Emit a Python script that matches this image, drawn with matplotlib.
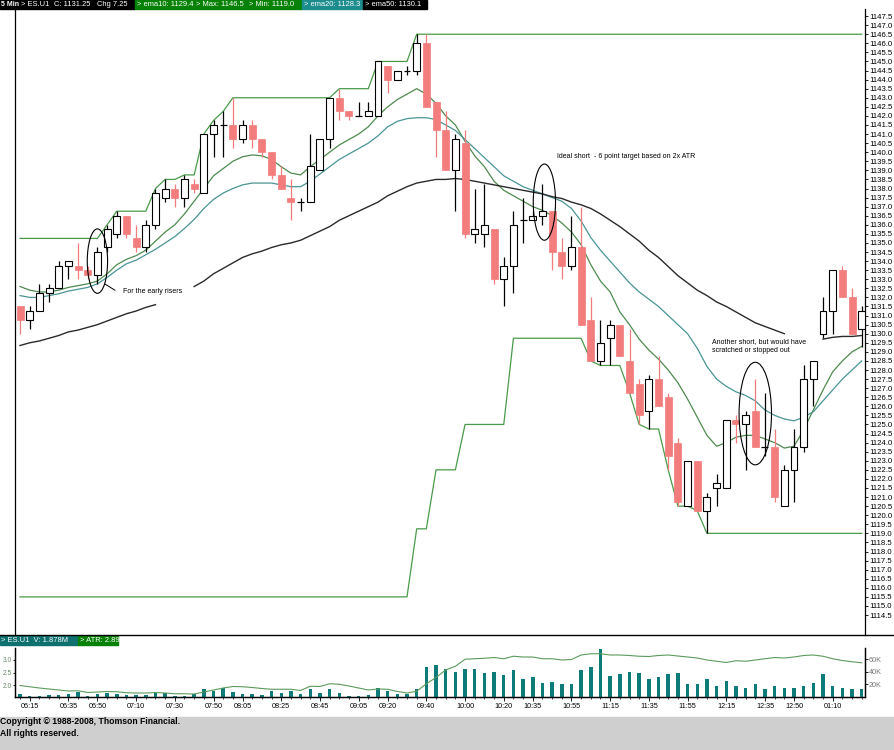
import numpy as np
import matplotlib
matplotlib.use('Agg')
import matplotlib.pyplot as plt
from matplotlib.patches import Ellipse, Rectangle
from matplotlib.lines import Line2D

plt.rcParams['font.family'] = ['Liberation Sans', 'DejaVu Sans']

# ---- data (5 min bars, first bar 06:10) ----
first_bar = '06:10'
opens = [1131.5, 1130.75, 1131.25, 1132.25, 1132.5, 1133.75, 1133.75, 1133.5, 1133.25, 1134.75,
         1135.5, 1136.5, 1135.25, 1134.75, 1136.0, 1137.5, 1138.0, 1137.5, 1138.25, 1137.75,
         1141.0, 1141.5, 1141.5, 1140.75, 1141.5, 1140.75, 1140.0, 1138.75, 1137.5, 1137.25,
         1137.25, 1139.0, 1140.75, 1143.0, 1142.25, 1142.0, 1142.0, 1142.0, 1144.75, 1144.0,
         1144.5, 1144.5, 1146.0, 1142.75, 1141.25, 1139.0, 1140.5, 1135.5, 1135.5, 1135.75,
         1133.0, 1133.75, 1136.25, 1136.25, 1136.5, 1136.75, 1134.5, 1133.75, 1134.75, 1130.75,
         1128.5, 1129.75, 1130.5, 1128.5, 1127.25, 1125.75, 1127.5, 1126.5, 1124.0, 1120.5,
         1123.0, 1120.25, 1121.5, 1121.5, 1125.25, 1125.0, 1125.75, 1123.75, 1123.75, 1120.5,
         1122.5, 1123.75, 1127.5, 1130.0, 1131.25, 1133.5, 1132.0, 1130.25]
highs = [1131.5, 1131.5, 1132.75, 1132.75, 1134.0, 1134.0, 1135.0, 1133.75, 1134.75, 1136.0,
         1136.75, 1136.5, 1136.0, 1136.25, 1138.0, 1138.5, 1138.25, 1138.75, 1138.5, 1141.0,
         1141.75, 1142.25, 1143.0, 1141.75, 1141.75, 1140.75, 1140.0, 1139.25, 1138.5, 1137.5,
         1141.0, 1140.75, 1143.0, 1143.5, 1142.25, 1142.75, 1142.75, 1145.0, 1144.75, 1144.5,
         1144.75, 1146.5, 1146.5, 1142.75, 1142.25, 1141.0, 1141.25, 1138.0, 1138.25, 1135.75,
         1134.25, 1136.75, 1137.5, 1136.75, 1138.25, 1136.75, 1135.25, 1136.5, 1137.0, 1132.0,
         1130.75, 1130.75, 1130.5, 1130.25, 1127.5, 1127.75, 1128.75, 1126.75, 1124.25, 1123.0,
         1123.0, 1121.25, 1122.25, 1125.25, 1125.5, 1125.75, 1127.5, 1126.75, 1124.75, 1122.75,
         1124.75, 1128.25, 1128.5, 1132.0, 1133.5, 1133.75, 1132.5, 1131.5]
lows = [1130.0, 1130.25, 1131.25, 1131.75, 1132.5, 1133.0, 1133.0, 1133.0, 1132.75, 1134.5,
        1135.25, 1135.25, 1134.5, 1134.5, 1135.75, 1137.25, 1137.0, 1137.0, 1137.75, 1137.75,
        1139.75, 1139.75, 1140.25, 1140.5, 1140.25, 1139.75, 1138.5, 1138.0, 1136.25, 1136.75,
        1137.25, 1139.0, 1140.25, 1141.75, 1141.75, 1142.0, 1142.0, 1142.0, 1143.25, 1144.0,
        1144.25, 1144.25, 1142.5, 1139.75, 1139.0, 1136.75, 1135.25, 1135.0, 1134.75, 1132.75,
        1131.5, 1132.25, 1135.0, 1136.25, 1136.0, 1133.5, 1133.0, 1133.5, 1130.5, 1128.5,
        1128.25, 1128.25, 1128.75, 1126.75, 1125.0, 1124.75, 1126.0, 1122.5, 1120.5, 1120.5,
        1120.25, 1119.0, 1120.5, 1121.5, 1124.0, 1122.5, 1123.75, 1123.25, 1120.75, 1120.5,
        1120.75, 1123.5, 1126.0, 1129.75, 1130.0, 1132.0, 1130.0, 1129.25]
closes = [1130.75, 1131.25, 1132.25, 1132.5, 1133.75, 1134.0, 1133.5, 1133.25, 1134.5, 1135.75,
          1136.5, 1135.5, 1134.75, 1136.0, 1137.75, 1138.0, 1137.5, 1138.5, 1138.0, 1141.0,
          1141.5, 1141.5, 1140.75, 1141.5, 1140.75, 1140.0, 1138.75, 1138.0, 1137.25, 1137.25,
          1139.25, 1140.75, 1143.0, 1142.25, 1142.0, 1142.0, 1142.25, 1145.0, 1144.0, 1144.5,
          1144.5, 1146.0, 1142.5, 1141.25, 1139.0, 1140.75, 1135.5, 1135.75, 1136.0, 1133.0,
          1133.75, 1136.0, 1136.25, 1136.5, 1136.75, 1134.5, 1133.75, 1134.75, 1130.5, 1128.5,
          1129.5, 1130.5, 1128.75, 1126.75, 1125.5, 1127.5, 1126.0, 1123.25, 1120.75, 1123.0,
          1120.25, 1121.0, 1121.75, 1125.25, 1125.0, 1125.5, 1123.75, 1123.75, 1121.0, 1122.5,
          1123.75, 1127.5, 1128.5, 1131.25, 1133.5, 1132.0, 1130.0, 1131.25]

ema10 = [1132.6, 1132.4, 1132.3, 1132.3, 1132.4, 1132.55, 1132.65, 1132.75, 1132.9, 1133.3,
         1133.8, 1134.1, 1134.3, 1134.6, 1135.1, 1135.6, 1136.0, 1136.6, 1137.3, 1138.0,
         1138.7, 1139.1, 1139.5, 1139.75, 1139.85, 1139.8, 1139.6, 1139.2, 1138.85, 1138.75,
         1139.2, 1139.6, 1140.0, 1140.4, 1140.7, 1141.0, 1141.4, 1142.0, 1142.5, 1142.9,
         1143.2, 1143.5, 1143.2, 1142.7, 1142.0, 1141.5, 1140.6, 1139.8, 1139.2, 1138.4,
         1137.9, 1137.6, 1137.3, 1137.0, 1136.8, 1136.5, 1136.1, 1135.6, 1134.9, 1133.8,
         1132.9, 1132.3, 1131.2, 1130.5, 1129.7, 1129.1, 1128.6, 1128.0, 1127.3, 1126.4,
         1125.4, 1124.4, 1123.8, 1124.0, 1124.3, 1124.4, 1124.4, 1124.2, 1124.0, 1123.7,
         1123.8, 1124.7, 1125.8, 1126.9, 1127.9, 1128.5, 1129.0, 1129.3]
ema20 = [1132.1, 1132.0, 1132.0, 1132.1, 1132.2, 1132.35, 1132.45, 1132.55, 1132.75, 1133.1,
         1133.5, 1133.85, 1134.05, 1134.35, 1134.65, 1135.0, 1135.35, 1135.8, 1136.3, 1136.9,
         1137.4, 1137.75, 1138.0, 1138.2, 1138.3, 1138.3, 1138.3, 1138.2, 1138.1, 1138.1,
         1138.4, 1138.8, 1139.2, 1139.6, 1139.9, 1140.2, 1140.5, 1140.9, 1141.4, 1141.7,
         1141.85, 1141.9, 1141.9, 1141.8, 1141.5, 1141.2, 1140.7, 1140.2, 1139.7, 1139.2,
         1138.7, 1138.4, 1138.1, 1137.9, 1137.7, 1137.5, 1137.3, 1136.9, 1136.2, 1135.3,
         1134.6, 1134.0, 1133.4, 1132.8, 1132.3, 1131.9, 1131.5, 1131.0, 1130.5, 1130.0,
         1129.2, 1128.2, 1127.5, 1127.1, 1126.8, 1126.6, 1126.3, 1125.8, 1125.5, 1125.3,
         1125.2, 1125.4, 1125.7, 1126.3, 1126.9, 1127.5, 1128.0, 1128.5]
nan = float('nan')
ema50 = [1129.35, 1129.5, 1129.6, 1129.75, 1129.9, 1130.1, 1130.2, 1130.35, 1130.5, 1130.7,
         1130.9, 1131.1, 1131.25, 1131.45, 1131.6, nan, nan, nan, 1132.6, 1132.9,
         1133.3, 1133.6, 1133.9, 1134.2, 1134.4, 1134.55, 1134.75, 1134.9, 1135.0, 1135.15,
         1135.4, 1135.65, 1135.9, 1136.25, 1136.5, 1136.75, 1137.0, 1137.25, 1137.6, 1137.85,
         1138.1, 1138.3, 1138.4, 1138.5, 1138.5, 1138.55, 1138.5, 1138.4, 1138.3, 1138.2,
         1138.1, 1138.0, 1137.9, 1137.8, 1137.7, 1137.55, 1137.45, 1137.25, 1137.1, 1136.9,
         1136.6, 1136.25, 1135.9, 1135.5, 1135.1, 1134.6, 1134.2, 1133.7, 1133.2, 1132.8,
         1132.4, 1132.1, 1131.75, 1131.5, 1131.2, 1130.9, 1130.6, 1130.4, 1130.2, 1130.0,
         nan, nan, nan, 1129.7, 1129.8, 1129.85, 1129.85, 1129.9]
chan_max = [1135.25] * 9 + [1136.0] + [1136.75] * 4 + [1138.0, 1138.5, 1138.5, 1138.75, 1138.75,
            1141.0, 1141.75, 1142.25] + [1143.0] * 11 + [1143.5] * 4 + [1145.0] * 4 + [1146.5] * 47
chan_min = [1115.5] * 41 + [1119.25] * 2 + [1122.5] * 3 + [1125.0] * 5 + [1129.75] * 8 + \
           [1128.5, 1128.25, 1128.25, 1128.25, 1126.75, 1125.0, 1124.75, 1124.75, 1122.5,
            1120.5, 1120.5, 1120.25] + [1119.0] * 17

volume_k = [5, 2, 2, 3, 3, 4, 8, 2, 4, 7, 5, 3, 3, 3, 7, 6, 2, 2, 4, 13,
            9, 14, 8, 4, 4, 3, 9, 7, 9, 5, 12, 6, 13, 6, 2, 2, 3, 14, 9, 5,
            5, 13, 48, 50, 45, 40, 44, 44, 38, 40, 35, 43, 28, 31, 22, 24, 20, 21, 43, 47,
            76, 33, 37, 40, 38, 28, 31, 37, 38, 21, 20, 28, 17, 25, 17, 15, 21, 12, 18, 15,
            15, 18, 22, 36, 18, 14, 13, 13]
atr = [1.98, 1.93, 1.88, 1.84, 1.80, 1.76, 1.77, 1.70, 1.72, 1.74, 1.73, 1.69, 1.68, 1.68,
       1.70, 1.68, 1.65, 1.65, 1.64, 1.72, 1.80, 1.88, 1.94, 1.93, 1.90, 1.86, 1.83, 1.83,
       1.83, 1.78, 1.95, 1.94, 2.05, 2.03, 1.96, 1.88, 1.80, 1.84, 1.83, 1.74, 1.68, 1.75,
       2.05, 2.30, 2.60, 2.75, 3.03, 3.05, 3.07, 3.10, 3.05, 3.15, 3.12, 3.12, 3.05, 3.05,
       3.00, 3.02, 3.20, 3.25, 3.25, 3.20, 3.20, 3.18, 3.15, 3.14, 3.18, 3.20, 3.16, 3.12,
       3.08, 3.00, 2.95, 2.90, 2.97, 2.95, 3.00, 3.05, 3.10, 3.08, 3.12, 3.18, 3.20, 3.15,
       3.05, 2.98, 2.93, 2.89]

time_labels = ['06:15', '06:35', '06:50', '07:10', '07:30', '07:50', '08:05', '08:25', '08:45',
               '09:05', '09:20', '09:40', '10:00', '10:20', '10:35', '10:55', '11:15', '11:35',
               '11:55', '12:15', '12:35', '12:50', '01:10']

# ---- layout helpers (pixel -> figure fraction) ----
W, H = 895, 750
fig = plt.figure(figsize=(W / 100, H / 100), dpi=100)


def fx(px):
    return px / W


def fy(py):
    return 1 - py / H


RED = '#f37c7c'
XLIM = (-0.52, 87.34)

# ---- price panel ----
ax = fig.add_axes([fx(15), fy(635), fx(865) - fx(15), fy(9) - fy(635)])
n = len(opens)
xs = np.arange(n)
for i in range(n):
    o, h, l, c = opens[i], highs[i], lows[i], closes[i]
    if c < o:
        ax.vlines(i, l, h, color=RED, lw=0.9, zorder=3)
        ax.bar(i, o - c, bottom=c, width=0.72, color=RED, edgecolor=RED, lw=0.5, zorder=4)
    else:
        ax.vlines(i, l, h, color='black', lw=0.9, zorder=3)
        if c == o:
            ax.hlines(c, i - 0.36, i + 0.36, color='black', lw=0.9, zorder=4)
        else:
            ax.bar(i, c - o, bottom=o, width=0.72, facecolor='white', edgecolor='black',
                   lw=0.8, zorder=4)

ax.plot(xs, chan_max, color='#4a9a4a', lw=0.9, zorder=2)
ax.plot(xs, chan_min, color='#4a9a4a', lw=0.9, zorder=2)
ax.plot(xs, ema10, color='#4f8a4f', lw=0.9, zorder=2)
ax.plot(xs, ema20, color='#4a9494', lw=0.9, zorder=2)
ax.plot(xs, ema50, color='#2a2a2a', lw=1.0, zorder=2)

# annotations
for (cx, cy, w, h) in [(8.0, 1134.0, 2.1, 3.55), (54.2, 1137.25, 2.3, 4.2), (76.0, 1125.6, 3.35, 5.65)]:
    ax.add_patch(Ellipse((cx, cy), w, h, fill=False, ec='black', lw=0.8, zorder=5))
ax.plot([8.8, 9.8], [1132.73, 1132.4], color='black', lw=0.7, zorder=5)
ax.text(10.65, 1132.3, 'For the early risers', fontsize=5, va='center', ha='left', zorder=6)
ax.text(55.5, 1139.76, 'Ideal short  - 6 point target based on 2x ATR', fontsize=5,
        va='center', ha='left', zorder=6)
ax.text(71.5, 1129.32, 'Another short, but would have\nscratched or stopped out', fontsize=5,
        va='center', ha='left', linespacing=1.35, zorder=6)

ax.set_xlim(*XLIM)
ax.set_ylim(1113.4, 1147.89)
ax.yaxis.tick_right()
ax.set_yticks(np.arange(1114.5, 1147.51, 0.5))
ax.yaxis.set_major_formatter(matplotlib.ticker.FormatStrFormatter('%.1f'))
ax.tick_params(axis='y', direction='out', length=2.5, width=0.6, pad=0.8, labelsize=5.6)
ax.set_xticks([])
for s in ('top', 'bottom'):
    ax.spines[s].set_visible(False)
for s in ('left', 'right'):
    ax.spines[s].set_linewidth(0.9)

# ---- volume / ATR panel ----
axv = fig.add_axes([fx(15), fy(697), fx(865) - fx(15), fy(648) - fy(697)])
axa = axv.twinx()
axv.bar(xs, np.array(volume_k) * 1000, width=0.36, color='#0d7b7a', zorder=3)
axv.set_ylim(0, 77500)
axv.set_xlim(*XLIM)
axv.yaxis.tick_right()
axv.set_yticks([20000, 40000, 60000])
axv.set_yticklabels(['20K', '40K', '60K'])
axv.tick_params(axis='y', direction='out', length=2, width=0.6, pad=0.8, labelsize=5.2,
                labelcolor='#777777')

axa.plot(xs, atr, color='#5c9a5c', lw=0.8, zorder=2)
axa.set_ylim(1.52, 3.48)
axa.set_xlim(*XLIM)
axa.yaxis.tick_left()
axa.set_yticks([2.0, 2.5, 3.0])
axa.set_yticklabels(['2.0', '2.5', '3.0'])
axa.tick_params(axis='y', direction='out', length=1.5, width=0.6, pad=0.5, labelsize=4.8,
                labelcolor='#6d8a6d')

t0 = int(first_bar[:2]) * 60 + int(first_bar[3:])
label_pos = []
for lab in time_labels:
    hh, mm = int(lab[:2]), int(lab[3:])
    if hh < 6:
        hh += 12
    label_pos.append((hh * 60 + mm - t0) / 5)
axv.set_xticks(label_pos)
axv.set_xticklabels(time_labels)
axv.set_xticks(xs, minor=True)
axv.tick_params(axis='x', which='major', direction='out', length=3, width=0.6, pad=1,
                labelsize=5.2)
axv.tick_params(axis='x', which='minor', direction='out', length=1.5, width=0.5)
for a in (axv, axa):
    a.spines['top'].set_visible(False)
    for s in ('left', 'right', 'bottom'):
        a.spines[s].set_linewidth(0.9)

# ---- header bars and frame lines ----
def header_box(x0, x1, y0, y1, color):
    fig.patches.append(Rectangle((fx(x0), fy(y1)), fx(x1) - fx(x0), fy(y0) - fy(y1),
                                 transform=fig.transFigure, color=color, zorder=0))


def header_text(px, py, s, color='white', weight='normal', size=5.4):
    fig.text(fx(px), fy(py), s, color=color, fontsize=size, fontweight=weight,
             ha='left', va='center')


header_box(0, 135, 0, 9, 'black')
header_box(135, 302, 0, 9, '#078207')
header_box(302, 363, 0, 9, '#1c8c8c')
header_box(363, 427, 0, 9, 'black')
header_text(1, 4.7, '5 Min', weight='bold', size=5.0)
header_text(21, 4.7, '> ES.U1')
header_text(54, 4.7, 'C: 1131.25')
header_text(97, 4.7, 'Chg 7.25')
header_text(137, 4.7, '> ema10: 1129.4')
header_text(196, 4.7, '> Max: 1146.5')
header_text(249, 4.7, '> Min: 1119.0')
header_text(304, 4.7, '> ema20: 1128.3')
header_text(365, 4.7, '> ema50: 1130.1')

header_box(0, 78, 636, 645, '#0f7070')
header_box(78, 118, 636, 645, '#078207')
header_text(1, 640.5, '> ES.U1  V: 1.878M')
header_text(80, 640.5, '> ATR: 2.89')

fig.add_artist(Line2D([0, 1], [fy(635), fy(635)], transform=fig.transFigure,
                      color='black', lw=1.0))

header_box(0, 895, 717, 750, '#cfcfcf')
header_text(0, 722, 'Copyright \u00a9 1988-2008, Thomson Financial.', color='black',
            weight='bold', size=6.2)
header_text(0, 733.5, 'All rights reserved.', color='black', weight='bold', size=6.2)

fig.savefig('out.png', dpi=100, facecolor='white')
